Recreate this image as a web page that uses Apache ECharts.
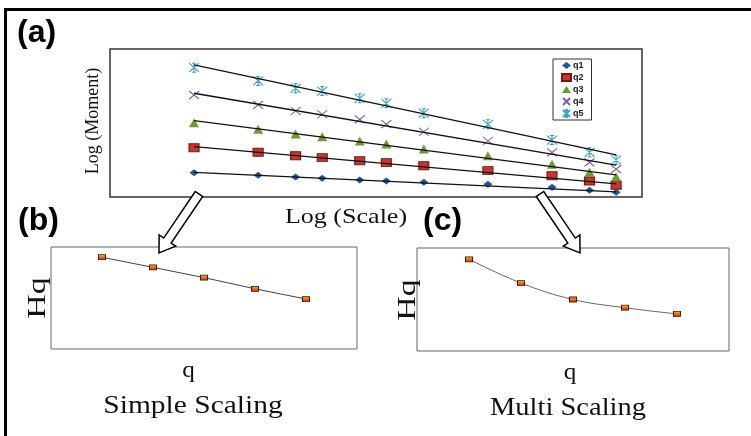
<!DOCTYPE html>
<html>
<head>
<meta charset="utf-8">
<script src="https://cdn.jsdelivr.net/npm/echarts@6/dist/echarts.min.js"></script>
<style>
  html, body { margin: 0; padding: 0; background: #ffffff; }
  #chart { width: 751px; height: 436px; }
</style>
</head>
<body>
<div id="chart"></div>
<script>
// ---- Panel (a): log(moment) vs log(scale) ----
const scales = [1, 2, 3, 4, 6, 8, 12, 24, 48, 72, 96];
const q1 = [1.64, 1.47, 1.35, 1.26, 1.15, 1.08, 0.99, 0.86, 0.66, 0.45, 0.32];
const q2 = [3.33, 3.02, 2.79, 2.66, 2.45, 2.32, 2.11, 1.78, 1.44, 1.08, 0.79];
const q3 = [5.02, 4.57, 4.26, 4.07, 3.78, 3.58, 3.24, 2.79, 2.21, 1.67, 1.37];
const q4 = [6.89, 6.22, 5.81, 5.59, 5.25, 4.93, 4.41, 3.80, 3.02, 2.34, 1.89];
const q5 = [8.74, 7.84, 7.34, 7.16, 6.67, 6.33, 5.66, 4.91, 3.85, 3.02, 2.50];
const seriesNames = ['q1', 'q2', 'q3', 'q4', 'q5'];
// fitted trend lines: value at first and at last scale
const fitStart = [1.67, 3.40, 5.16, 7.01, 8.92];
const fitEnd   = [0.34, 0.88, 1.49, 2.16, 2.84];

// ---- Panels (b) and (c): Hq vs q ----
const qOrders  = [1, 2, 3, 4, 5];
const hqSimple = [0.90, 0.80, 0.70, 0.59, 0.49];
const hqMulti  = [0.89, 0.66, 0.50, 0.42, 0.36];

const chart = echarts.init(document.getElementById('chart'), null, { renderer: 'canvas' });

const qValues = [q1, q2, q3, q4, q5];
const markerStyles = [
  { symbol: 'diamond', size: [9, 7], item: { color: '#1f55a0', opacity: 1 } },
  { symbol: 'rect', size: [10, 8], item: { color: '#c0392f', borderColor: '#7a1515', borderWidth: 1, opacity: 1 } },
  { symbol: 'triangle', size: [10, 9], item: { color: '#6f9a2e', opacity: 1 } },
  { symbol: 'path://M0,0L10,10M10,0L0,10', size: [10, 8], item: { color: 'rgba(0,0,0,0)', borderColor: '#7a5fa0', borderWidth: 1.1, opacity: 1 } },
  { symbol: 'path://M0,0L10,10M10,0L0,10M5,0L5,10M3,0L7,0M3,10L7,10', size: [10, 9], item: { color: 'rgba(0,0,0,0)', borderColor: '#3aa5c0', borderWidth: 1.1, opacity: 1 } }
];

const series = [];
qValues.forEach((vals, i) => {
  series.push({
    name: seriesNames[i],
    type: 'scatter',
    xAxisIndex: 0, yAxisIndex: 0,
    symbol: markerStyles[i].symbol,
    symbolSize: markerStyles[i].size,
    itemStyle: markerStyles[i].item,
    data: scales.map((s, k) => [s, vals[k]]),
    z: 2
  });
});
qValues.forEach((vals, i) => {
  series.push({
    name: seriesNames[i] + ' fit',
    type: 'line',
    xAxisIndex: 0, yAxisIndex: 0,
    symbol: 'none',
    lineStyle: { color: '#111', width: 1.3 },
    data: [[scales[0], fitStart[i]], [scales[scales.length - 1], fitEnd[i]]],
    z: 3
  });
});

const hqMarker = {
  color: { type: 'linear', x: 0, y: 0, x2: 0, y2: 1,
    colorStops: [{ offset: 0, color: '#f0b818' }, { offset: 0.45, color: '#e8781a' }, { offset: 1, color: '#c8281a' }] },
  borderColor: '#3a2010', borderWidth: 0.9, opacity: 1
};
series.push({
  name: 'Simple Scaling', type: 'line', xAxisIndex: 1, yAxisIndex: 1,
  data: qOrders.map((q, k) => [q, hqSimple[k]]),
  symbol: 'rect', symbolSize: [7, 5], showSymbol: true,
  itemStyle: hqMarker,
  lineStyle: { color: '#444', width: 1 }
});
series.push({
  name: 'Multi Scaling', type: 'line', xAxisIndex: 2, yAxisIndex: 2,
  data: qOrders.map((q, k) => [q, hqMulti[k]]),
  symbol: 'rect', symbolSize: [7, 5], showSymbol: true, smooth: 0.4,
  itemStyle: hqMarker,
  lineStyle: { color: '#666', width: 1 }
});

function serifText(text, x, y, size, scaleX, rotation) {
  return {
    type: 'text', x: x, y: y, rotation: rotation || 0, scaleX: scaleX || 1, z: 50,
    style: {
      text: text, fill: '#111',
      font: size + 'px "Liberation Serif", "Times New Roman", serif',
      textAlign: 'center', textVerticalAlign: 'middle', align: 'center', verticalAlign: 'middle'
    }
  };
}
function boldLabel(text, x, y) {
  return {
    type: 'text', x: x, y: y, z: 50,
    style: {
      text: text, fill: '#000',
      font: 'bold 32px "Liberation Sans", Arial, sans-serif',
      textAlign: 'left', textVerticalAlign: 'middle', align: 'left', verticalAlign: 'middle'
    }
  };
}
function hollowArrow(sx, sy, tx, ty) {
  const dx = tx - sx, dy = ty - sy, L = Math.hypot(dx, dy);
  const ux = dx / L, uy = dy / L, nx = -uy, ny = ux;
  const w = 4.5, hw = 10, hl = 15;
  const bx = tx - ux * hl, by = ty - uy * hl;
  return {
    type: 'polygon', z: 60,
    shape: { points: [
      [sx + nx * w, sy + ny * w], [bx + nx * w, by + ny * w], [bx + nx * hw, by + ny * hw],
      [tx, ty],
      [bx - nx * hw, by - ny * hw], [bx - nx * w, by - ny * w], [sx - nx * w, sy - ny * w]
    ] },
    style: { fill: '#ffffff', stroke: '#000000', lineWidth: 1.5 }
  };
}

const option = {
  animation: false,
  backgroundColor: '#ffffff',
  grid: [
    { left: 110, top: 49, width: 532, height: 148, show: true, borderColor: '#333', borderWidth: 1.5 },
    { left: 51, top: 247, width: 306, height: 102, show: true, borderColor: '#666', borderWidth: 1 },
    { left: 417, top: 248, width: 312, height: 103, show: true, borderColor: '#666', borderWidth: 1 }
  ],
  xAxis: [
    { gridIndex: 0, type: 'log', logBase: 2, min: 0.403, max: 127, show: false },
    { gridIndex: 1, type: 'value', min: 0, max: 6, show: false },
    { gridIndex: 2, type: 'value', min: 0, max: 6, show: false }
  ],
  yAxis: [
    { gridIndex: 0, type: 'value', min: 0, max: 10, show: false },
    { gridIndex: 1, type: 'value', min: 0, max: 1, show: false },
    { gridIndex: 2, type: 'value', min: 0, max: 1, show: false }
  ],
  legend: {
    data: seriesNames,
    orient: 'vertical',
    left: 553, top: 59,
    itemWidth: 9, itemHeight: 7, itemGap: 3,
    padding: [2, 8, 2, 8],
    borderColor: '#333', borderWidth: 1,
    textStyle: { fontSize: 9, fontWeight: 'bold', color: '#222', fontFamily: '"Liberation Sans", Arial, sans-serif', lineHeight: 7, padding: [0, 0, 0, -3] }
  },
  series: series,
  graphic: [
    { type: 'polyline', z: 70, shape: { points: [[5.5, 436], [5.5, 9.5], [751, 9.5]] }, style: { stroke: '#000', lineWidth: 3, fill: null } },
    boldLabel('(a)', 17, 33),
    boldLabel('(b)', 18, 221),
    boldLabel('(c)', 423, 221),
    serifText('Log (Moment)', 93, 121, 18, 1.0, Math.PI / 2),
    serifText('Log (Scale)', 346, 217, 21, 1.24),
    serifText('Hq', 38, 298, 26, 1.3, Math.PI / 2),
    serifText('Hq', 408, 300, 26, 1.3, Math.PI / 2),
    serifText('q', 188.5, 371, 24, 1.05),
    serifText('q', 570, 373, 24, 1.05),
    serifText('Simple Scaling', 193, 406, 25, 1.18),
    serifText('Multi Scaling', 568, 408, 25, 1.14),
    hollowArrow(199, 194, 159, 253),
    hollowArrow(540, 194, 580, 253)
  ]
};
chart.setOption(option);
</script>
</body>
</html>
